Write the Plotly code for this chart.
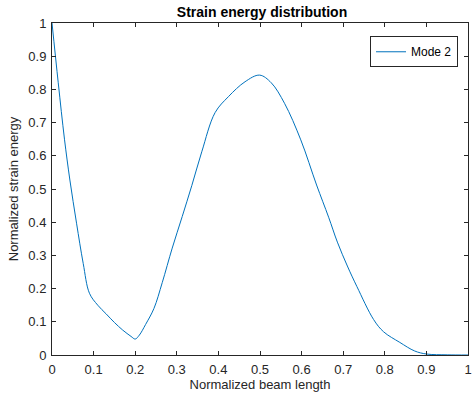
import plotly.graph_objects as go

x_vals = [0.0, 0.015, 0.03, 0.043, 0.059, 0.075, 0.090, 0.110, 0.130, 0.150, 0.170, 0.190, 0.200,
          0.210, 0.225, 0.245, 0.265, 0.289, 0.313, 0.336, 0.360, 0.392, 0.424, 0.464, 0.499,
          0.527, 0.559, 0.598, 0.636, 0.665, 0.686, 0.710, 0.733, 0.773, 0.797, 0.836, 0.872,
          0.90, 0.95, 1.0]
y_vals = [1.0, 0.82, 0.65, 0.527, 0.397, 0.276, 0.186, 0.150, 0.124, 0.098, 0.075, 0.056, 0.048,
          0.060, 0.092, 0.140, 0.218, 0.322, 0.417, 0.510, 0.612, 0.730, 0.778, 0.823, 0.843,
          0.820, 0.758, 0.648, 0.512, 0.415, 0.340, 0.268, 0.206, 0.107, 0.070, 0.038, 0.012,
          0.003, 0.0005, 0.0]

font_family = "Liberation Sans, Arial, Helvetica"

fig = go.Figure()
fig.add_trace(go.Scatter(x=x_vals, y=y_vals, mode="lines", name="Mode 2",
                         line=dict(color="#0072BD", width=1, shape="spline", smoothing=1.0)))

axis_common = dict(showline=True, linecolor="#262626", linewidth=1, mirror="ticks",
                   ticks="inside", ticklen=4, tickcolor="#262626", showgrid=False, zeroline=False,
                   ticklabeloverflow="allow", ticklabelstandoff=2,
                   tickfont=dict(family=font_family, size=13, color="#262626"))

fig.update_layout(
    width=473, height=399,
    margin=dict(l=52, r=1, t=23, b=44),
    paper_bgcolor="white", plot_bgcolor="white",
    title=dict(text="<b>Strain energy distribution</b>", x=0.554, xanchor="center", y=0.982, yanchor="top",
               font=dict(family=font_family, size=14, color="black")),
    xaxis=dict(range=[0, 1], dtick=0.1, tick0=0,
               title=dict(text="Normalized beam length", standoff=4,
                          font=dict(family=font_family, size=13, color="#262626")),
               **axis_common),
    yaxis=dict(range=[0, 1], dtick=0.1, tick0=0,
               title=dict(text="Normalized strain energy", standoff=6,
                          font=dict(family=font_family, size=13, color="#262626")),
               **axis_common),
    legend=dict(x=0.976, y=0.96, xanchor="right", yanchor="top", bgcolor="white",
                bordercolor="#262626", borderwidth=1,
                font=dict(family=font_family, size=12, color="black"),
                tracegroupgap=0, itemwidth=30),
    showlegend=True,
)

fig.write_html("out.html")
